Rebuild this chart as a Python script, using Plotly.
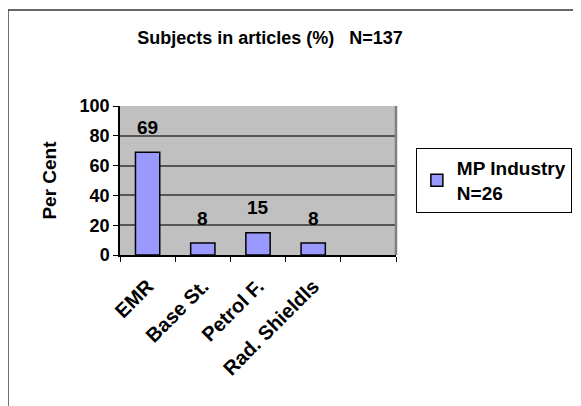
import plotly.graph_objects as go

categories = ["EMR", "Base St.", "Petrol F.", "Rad. Shieldls", " "]
values = [69, 8, 15, 8, None]
series_name = "MP Industry<br>N=26"
title_text = "Subjects in articles (%)   N=137"
y_ticks = [0, 20, 40, 60, 80, 100]

FONT = "Arial, Liberation Sans, sans-serif"

fig = go.Figure()
fig.add_trace(go.Bar(
    x=categories, y=values,
    name="<b>" + series_name.replace("<br>", "</b><br><b>") + "</b>",
    marker=dict(color="#9999ff", line=dict(color="black", width=1.5)),
    width=0.44, showlegend=True))

# data labels floated above the bars, Excel style
for c, v in zip(categories, values):
    if v is None:
        continue
    fig.add_annotation(x=c, y=v, text=f"<b>{v}</b>", showarrow=False,
        yanchor="middle", yshift=25,
        font=dict(family=FONT, size=19, color="black"))

# outer chart frame and right edge of plot area
fig.add_shape(type="rect", xref="paper", yref="paper",
    x0=-0.406, x1=1.75, y0=-1.2, y1=1.644,
    line=dict(color="#333333", width=1.5))
fig.add_shape(type="line", xref="paper", yref="paper",
    x0=1, x1=1, y0=0, y1=1, line=dict(color="#808080", width=2.5))

# page body has an 8px margin, so everything is placed 8px up/left
fig.update_layout(
    width=581, height=406,
    margin=dict(l=112, r=193, t=98, b=159, autoexpand=False),
    paper_bgcolor="white", plot_bgcolor="#c0c0c0",
    font=dict(family=FONT, color="black"),
    title=dict(text="<b>" + title_text + "</b>", x=262 / 581, xanchor="center",
        y=1 - 30 / 406, yanchor="middle",
        font=dict(family=FONT, size=18, color="black")),
    legend=dict(x=1.072, y=0.718, xanchor="left", yanchor="top",
        bgcolor="white", bordercolor="black", borderwidth=1,
        font=dict(family=FONT, size=19, color="black")),
)

fig.update_xaxes(type="category", tickson="boundaries", ticks="outside",
    ticklen=5, tickcolor="black", showline=True, linecolor="black",
    linewidth=1.5, showgrid=False, tickangle=-45,
    tickvals=categories, ticktext=["<b>" + c + "</b>" for c in categories],
    tickfont=dict(family=FONT, size=20, color="black"),
    ticklabelstandoff=10, range=[-0.5, 4.5])

fig.update_yaxes(range=[0, 100], tickvals=y_ticks,
    ticktext=["<b>" + str(t) + "</b>" for t in y_ticks],
    ticks="outside", ticklen=5, tickcolor="black",
    showline=True, linecolor="black", linewidth=1.5,
    showgrid=True, gridcolor="#555555", gridwidth=1.5, zeroline=False,
    tickfont=dict(family=FONT, size=18, color="black"),
    title=dict(text="<b>Per Cent</b>", standoff=18,
        font=dict(family=FONT, size=19, color="black")))

fig.write_html("out.html")
